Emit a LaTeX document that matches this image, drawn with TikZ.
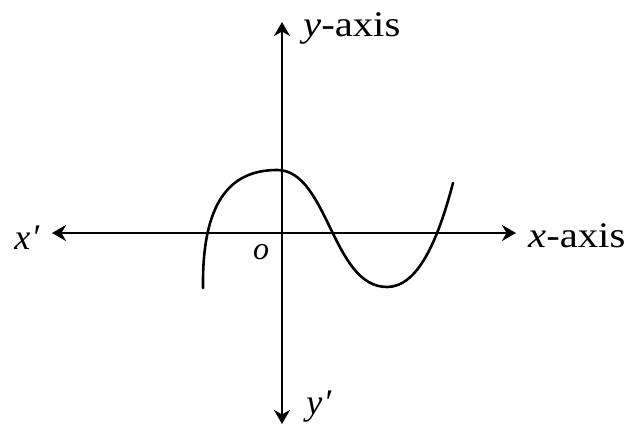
\documentclass[tikz,border=0pt]{standalone}
\usepackage{fontspec}
\setmainfont{Liberation Serif}
\usetikzlibrary{arrows.meta}
\begin{document}
\begin{tikzpicture}[x=1pt,y=-1pt,
  axis/.style={line width=2.2pt,{Stealth[length=14pt,width=16pt,inset=4.5pt]}-{Stealth[length=14pt,width=16pt,inset=4.5pt]}},
  curve/.style={line width=2.6pt,line cap=round},
  lbl/.style={inner sep=0pt,font=\fontsize{36}{40}\selectfont}]
\useasboundingbox (0,0) rectangle (633,430);
\coordinate (L) at (52,233);
\coordinate (R) at (516,233);
\coordinate (T) at (282,22);
\coordinate (B) at (282,424);
\draw[axis] (L) -- (R);
\draw[axis] (B) -- (T);
\coordinate (c0) at (203,288);
\coordinate (c1) at (277,170);
\coordinate (c2) at (387,287);
\coordinate (c3) at (453,183);
\draw[curve] (c0) .. controls (202,205) and (228,170) .. (c1)
  .. controls (328,170) and (332,287) .. (c2)
  .. controls (418,287) and (438,240) .. (c3);
\node[lbl,anchor=base west] (ylab) at (303,37) {\scalebox{1.13}[1]{\textit{y}-axis}};
\node[lbl,anchor=base west] (xlab) at (528,248) {\scalebox{1.13}[1]{\textit{x}-axis}};
\node[lbl] (xp) at (27,238) {\textit{x\kern1pt′}};
\node[lbl] (yp) at (319,407) {\textit{y\kern1pt′}};
\node[lbl,font=\fontsize{32}{34}\selectfont] (o) at (261,252) {\textit{o}};
\end{tikzpicture}
\end{document}
